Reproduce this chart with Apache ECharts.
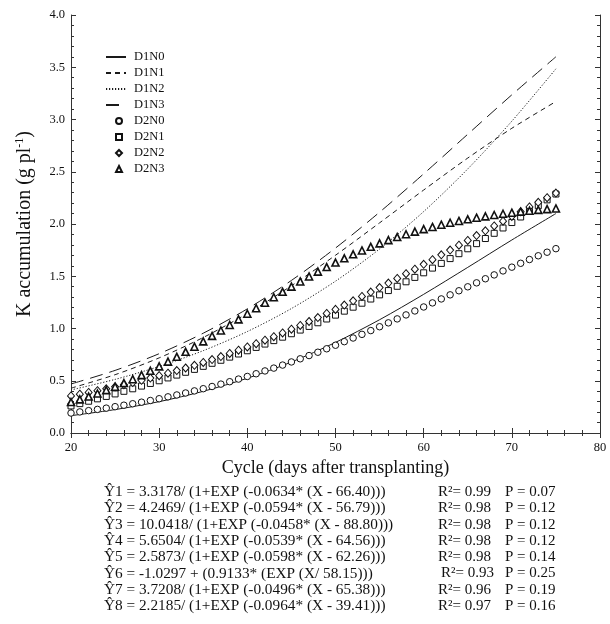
<!DOCTYPE html>
<html><head><meta charset="utf-8">
<script src="https://cdn.jsdelivr.net/npm/echarts@6/dist/echarts.min.js"></script>
<style>html,body{margin:0;padding:0;background:#fff}#c{width:610px;height:624px}</style>
</head><body><div id="c"></div>
<script>
// ---- data ----
const days = [20,21,22,23,24,25,26,27,28,29,30,31,32,33,34,35,36,37,38,39,40,41,42,43,44,45,46,47,48,49,50,51,52,53,54,55,56,57,58,59,60,61,62,63,64,65,66,67,68,69,70,71,72,73,74,75];
const lineDays = [20,25,30,35,40,45,50,55,60,65,70,75];

const d1n0 = [0.166,0.224,0.300,0.399,0.524,0.679,0.867,1.084,1.327,1.585,1.847,2.100];
const d1n1 = [0.429,0.558,0.719,0.914,1.144,1.409,1.701,2.011,2.325,2.631,2.916,3.172];
const d1n2 = [0.412,0.513,0.637,0.788,0.971,1.191,1.453,1.761,2.119,2.527,2.984,3.485];
const d1n3 = [0.469,0.599,0.759,0.955,1.188,1.460,1.770,2.113,2.480,2.859,3.236,3.600];

const d2n0 = [0.191,0.202,0.214,0.226,0.238,0.252,0.266,0.280,0.295,0.311,
              0.328,0.346,0.364,0.383,0.403,0.424,0.445,0.468,0.491,0.516,
              0.541,0.567,0.594,0.621,0.650,0.680,0.710,0.741,0.773,0.806,
              0.840,0.874,0.909,0.944,0.980,1.017,1.054,1.092,1.130,1.168,
              1.206,1.245,1.283,1.322,1.361,1.399,1.437,1.476,1.513,1.551,
              1.587,1.624,1.660,1.696,1.730,1.764];
const d2n1 = [0.259,0.281,0.304,0.327,0.350,0.374,0.399,0.423,0.449,0.474,
              0.500,0.527,0.554,0.581,0.609,0.638,0.667,0.696,0.726,0.756,
              0.787,0.819,0.851,0.884,0.917,0.950,0.985,1.020,1.055,1.091,
              1.128,1.166,1.204,1.242,1.282,1.322,1.363,1.404,1.447,1.489,
              1.533,1.578,1.623,1.669,1.716,1.763,1.812,1.861,1.911,1.962,
              2.014,2.067,2.121,2.175,2.231,2.287];
const d2n2 = [0.355,0.371,0.388,0.405,0.423,0.442,0.462,0.483,0.504,0.526,
              0.549,0.572,0.597,0.622,0.648,0.675,0.703,0.732,0.761,0.792,
              0.823,0.855,0.888,0.922,0.957,0.993,1.029,1.067,1.105,1.144,
              1.183,1.224,1.265,1.307,1.349,1.392,1.435,1.479,1.524,1.568,
              1.614,1.659,1.705,1.751,1.797,1.843,1.889,1.935,1.981,2.027,
              2.073,2.118,2.163,2.208,2.252,2.296];
const d2n3 = [0.296,0.322,0.349,0.378,0.410,0.443,0.478,0.515,0.554,0.595,
              0.638,0.683,0.729,0.777,0.826,0.877,0.929,0.981,1.034,1.087,
              1.141,1.194,1.247,1.299,1.351,1.401,1.450,1.498,1.544,1.588,
              1.631,1.672,1.710,1.747,1.782,1.815,1.846,1.875,1.902,1.927,
              1.951,1.972,1.993,2.012,2.029,2.045,2.060,2.073,2.086,2.098,
              2.108,2.118,2.127,2.135,2.142,2.149];

const lineNames = ['D1N0','D1N1','D1N2','D1N3'];
const pointNames = ['D2N0','D2N1','D2N2','D2N3'];

const equations = [
  'Ŷ1 = 3.3178/ (1+EXP (-0.0634* (X - 66.40)))',
  'Ŷ2 = 4.2469/ (1+EXP (-0.0594* (X - 56.79)))',
  'Ŷ3 = 10.0418/ (1+EXP (-0.0458* (X - 88.80)))',
  'Ŷ4 = 5.6504/ (1+EXP (-0.0539* (X - 64.56)))',
  'Ŷ5 = 2.5873/ (1+EXP (-0.0598* (X - 62.26)))',
  'Ŷ6 = -1.0297 + (0.9133* (EXP (X/ 58.15)))',
  'Ŷ7 = 3.7208/ (1+EXP (-0.0496* (X - 65.38)))',
  'Ŷ8 = 2.2185/ (1+EXP (-0.0964* (X - 39.41)))'
];
const r2Values = ['0.99','0.98','0.98','0.98','0.98','0.93','0.96','0.97'];
const pValues = ['0.07','0.12','0.12','0.12','0.14','0.25','0.19','0.16'];

// ---- chart ----
const FONT = '"Liberation Serif", "Times New Roman", serif';
const INK = '#111';
const pair = (xs, ys) => xs.map((x, i) => [x, ys[i]]);

const lineDash = ['solid', [5, 4], [1.2, 1.8], [13, 7]];
const lineData = [d1n0, d1n1, d1n2, d1n3];
const pointData = [d2n0, d2n1, d2n2, d2n3];
const pointSymbols = ['circle', 'rect', 'diamond', 'triangle'];
const pointSizes = [6.5, 6, [7, 8], 7];
const pointBorder = [1, 1, 1, 1.6];

const series = [];
lineNames.forEach((n, i) => {
  series.push({
    name: n, type: 'line', data: pair(lineDays, lineData[i]),
    symbol: 'none', showSymbol: false, smooth: 0.3, z: 2,
    lineStyle: { color: '#1a1a1a', width: 1, type: lineDash[i] },
    itemStyle: { color: '#1a1a1a' }
  });
});
pointNames.forEach((n, i) => {
  series.push({
    name: n, type: 'scatter', data: pair(days, pointData[i]),
    symbol: pointSymbols[i], symbolSize: pointSizes[i], z: 3,
    itemStyle: { color: '#fff', borderColor: '#111', borderWidth: pointBorder[i], opacity: 1 }
  });
});

const axisCommon = {
  axisLine: { show: true, lineStyle: { color: '#333', width: 1 } },
  axisTick: { show: true, inside: true, length: 5, lineStyle: { color: '#333' } },
  minorTick: { show: true, splitNumber: 5, length: 3, lineStyle: { color: '#333' } },
  splitLine: { show: false }
};

const graphics = [];
equations.forEach((t, i) => {
  const y = 492 + i * 16.3;
  graphics.push({ type: 'text', x: 104, y: y, silent: true,
    style: { text: t, font: '15.3px ' + FONT, fill: INK, verticalAlign: 'middle' } });
  graphics.push({ type: 'text', x: i === 5 ? 441 : 438, y: y, silent: true,
    style: { text: 'R²= ' + r2Values[i], font: '15px ' + FONT, fill: INK, verticalAlign: 'middle' } });
  graphics.push({ type: 'text', x: 505, y: y, silent: true,
    style: { text: 'P = ' + pValues[i], font: '15px ' + FONT, fill: INK, verticalAlign: 'middle' } });
});

const chart = echarts.init(document.getElementById('c'), null, { renderer: 'canvas' });
chart.setOption({
  animation: false,
  backgroundColor: '#fff',
  grid: { left: 71, right: 10, top: 15, bottom: 191, containLabel: false },
  legend: [
    { data: lineNames, orient: 'vertical', left: 105, top: 50, padding: 0,
      itemWidth: 20, itemHeight: 14, itemGap: 2,
      itemStyle: { color: 'rgba(0,0,0,0)', borderWidth: 0, opacity: 0 },
      textStyle: { fontFamily: FONT, fontSize: 12.5, color: INK, lineHeight: 14, padding: [0, 0, 0, 3] },
      selectedMode: false },
    { data: pointNames, orient: 'vertical', left: 115, top: 114, padding: 0,
      itemWidth: 6, itemHeight: 6, itemGap: 2,
      textStyle: { fontFamily: FONT, fontSize: 12.5, color: INK, lineHeight: 14, padding: [0, 0, 0, 7] },
      selectedMode: false }
  ],
  xAxis: [
    Object.assign({}, axisCommon, {
      type: 'value', position: 'bottom', min: 20, max: 80, interval: 10,
      name: 'Cycle (days after transplanting)', nameLocation: 'middle', nameGap: 21,
      nameTextStyle: { fontFamily: FONT, fontSize: 18, color: INK },
      axisLabel: { fontFamily: FONT, fontSize: 12.5, color: INK, margin: 8 }
    }),
    Object.assign({}, axisCommon, {
      type: 'value', position: 'top', min: 20, max: 80, interval: 10,
      axisLabel: { show: false }
    })
  ],
  yAxis: [
    Object.assign({}, axisCommon, {
      type: 'value', position: 'left', min: 0, max: 4, interval: 0.5,
      name: 'K accumulation (g pl{s|-1})', nameLocation: 'middle', nameGap: 36,
      nameTextStyle: { fontFamily: FONT, fontSize: 20, color: INK,
        rich: { s: { fontFamily: FONT, fontSize: 12, color: INK, padding: [0, 0, 9, 0] } } },
      axisLabel: { fontFamily: FONT, fontSize: 12.5, color: INK, margin: 6, formatter: v => v.toFixed(1) }
    }),
    Object.assign({}, axisCommon, {
      type: 'value', position: 'right', min: 0, max: 4, interval: 0.5,
      axisLabel: { show: false }
    })
  ],
  series: series,
  graphic: graphics
});
</script>
</body></html>
